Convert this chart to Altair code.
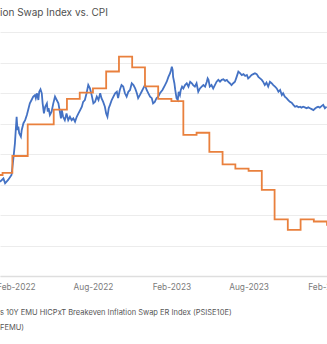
import altair as alt
import pandas as pd

# ---------------- data ----------------
title_text = "ion Swap Index vs. CPI"
legend_lines = [
    "s 10Y EMU HICPxT Breakeven Inflation Swap ER Index (PSISE10E)",
    "FEMU)",
]
tick_months = [(2022, 2), (2022, 8), (2023, 2), (2023, 8), (2024, 2)]

# Breakeven swap ER index (blue): days since base date, index level
base_date = "2021-12-26"
blue_day = [0, 8, 12, 19, 27, 31, 35, 39, 41, 43, 45, 49, 51, 55, 59, 63, 66, 70, 74, 78,
            82, 84, 87, 90, 92, 95, 98, 100, 103, 106, 110, 112, 114, 117, 121, 125, 129, 133, 137, 141,
            143, 145, 148, 152, 156, 160, 164, 168, 172, 176, 180, 184, 188, 192, 195, 199, 203, 207, 211, 215,
            219, 223, 227, 231, 235, 238, 242, 246, 249, 252, 255, 258, 262, 266, 270, 274, 277, 281, 285, 289,
            293, 297, 301, 305, 309, 313, 317, 321, 324, 328, 332, 336, 340, 344, 348, 352, 356, 359, 363, 367,
            371, 375, 381, 387, 391, 395, 399, 401, 403, 405, 406, 409, 411, 414, 417, 419, 422, 424, 427, 430,
            434, 438, 442, 446, 450, 453, 457, 461, 465, 469, 473, 477, 481, 485, 487, 489, 492, 496, 500, 504,
            508, 512, 516, 520, 524, 528, 532, 535, 539, 543, 547, 551, 555, 559, 563, 567, 571, 575, 579, 582,
            586, 590, 594, 598, 602, 606, 610, 614, 617, 621, 625, 629, 633, 637, 641, 645, 649, 653, 657, 661,
            664, 668, 672, 676, 680, 684, 688, 692, 696, 700, 704, 707, 711, 715, 719, 723, 727, 731, 735, 739,
            743, 746, 750, 754, 758, 762, 766]
blue_val = [130.9, 132.0, 130.4, 131.5, 133.1, 138.0, 143.5, 152.2, 147.9, 149.0, 146.8, 145.7, 147.9, 150.1, 151.1, 152.8, 154.4, 156.6, 157.7, 158.8,
            159.3, 158.3, 159.9, 157.7, 160.4, 161.2, 159.9, 156.6, 153.3, 155.5, 156.6, 153.9, 155.0, 152.8, 153.9, 156.6, 158.8, 157.7, 156.6, 153.3,
            151.7, 154.4, 152.2, 151.1, 153.3, 151.1, 152.2, 151.1, 151.7, 150.6, 152.2, 153.3, 154.4, 155.5, 157.1, 157.7, 159.9, 162.6, 161.5, 159.3,
            156.6, 157.1, 158.8, 157.7, 159.9, 158.3, 157.1, 155.5, 153.3, 152.2, 155.0, 156.1, 157.7, 158.8, 159.9, 160.4, 158.3, 161.0, 162.6, 162.1,
            159.9, 158.8, 160.4, 161.0, 163.2, 162.6, 161.5, 159.9, 158.3, 159.3, 160.4, 161.5, 162.6, 161.0, 159.9, 158.8, 158.3, 156.6, 157.1, 158.3,
            158.8, 159.9, 161.0, 162.6, 163.7, 165.3, 166.5, 167.5, 168.6, 167.5, 165.3, 163.2, 161.0, 158.3, 157.7, 160.4, 159.3, 161.0, 162.1, 161.5,
            162.6, 163.2, 162.1, 163.7, 163.2, 162.6, 162.1, 163.2, 160.4, 161.5, 162.1, 162.6, 162.1, 163.7, 164.8, 164.3, 162.1, 162.6, 161.5, 162.6,
            163.7, 164.3, 163.7, 164.3, 164.5, 164.0, 164.3, 163.7, 163.2, 162.6, 163.2, 163.7, 165.3, 167.0, 166.5, 165.9, 166.2, 165.6, 165.9, 164.8,
            165.3, 165.9, 166.2, 166.5, 166.2, 165.3, 164.8, 164.3, 163.7, 162.6, 163.4, 162.1, 163.7, 163.2, 162.6, 162.1, 161.5, 160.4, 161.0, 159.3,
            159.9, 158.8, 158.3, 157.7, 157.1, 156.8, 156.1, 155.5, 155.7, 155.3, 155.5, 155.2, 155.5, 155.3, 155.0, 155.3, 155.0, 154.7, 154.4, 154.9,
            155.3, 155.5, 155.2, 155.7, 156.1, 155.0, 155.5]

# Euro area HICP YoY % (orange, monthly steps)
cpi_date = ["2021-12-01", "2022-01-01", "2022-01-24", "2022-03-01", "2022-04-01", "2022-05-01",
            "2022-06-01", "2022-07-01", "2022-08-01", "2022-09-01", "2022-10-01", "2022-11-01",
            "2022-12-01", "2023-01-01", "2023-02-01", "2023-03-01", "2023-04-01", "2023-05-01",
            "2023-06-01", "2023-07-01", "2023-08-01", "2023-09-01", "2023-10-01", "2023-11-01",
            "2023-12-01", "2024-01-01", "2024-02-01"]
cpi_val = [5.0, 5.1, 5.9, 7.4, 7.4, 8.1, 8.6, 8.9, 9.1, 9.9, 10.6, 10.1, 9.2, 8.6, 8.5,
           6.9, 7.0, 6.1, 5.5, 5.3, 5.2, 4.3, 2.9, 2.4, 2.9, 2.8, 2.6]

# ---------------- tables ----------------
blue_dates = pd.Timestamp(base_date) + pd.to_timedelta(blue_day, unit="D")
blue_df = pd.DataFrame({"date": blue_dates.strftime("%Y-%m-%dT00:00:00Z"), "value": blue_val})
cpi_df = pd.DataFrame({"date": [d + "T00:00:00Z" for d in cpi_date], "value": cpi_val})

W, H = 327, 244
x_scale = alt.Scale(
    type="utc",
    domain=[alt.DateTime(year=2021, month=12, date=26, utc=True),
            alt.DateTime(year=2024, month=3, date=1, utc=True)],
    range=[0, 339.4],
)
x_axis = alt.Axis(
    title=None,
    values=[alt.DateTime(year=y, month=m, date=1, utc=True) for y, m in tick_months],
    labelExpr="utcFormat(datum.value, '%b-%Y')",
    ticks=False, grid=False, domain=True,
    domainColor="#dedede", domainWidth=1.6,
    labelColor="#7b7b7b", labelFontSize=8.3, labelFont="Inter",
    labelPadding=6, labelOverlap=False, labelFlush=False,
)
x_enc = alt.X("date:T", scale=x_scale, axis=x_axis)

blue = alt.Chart(blue_df).mark_line(color="#4472c4", strokeWidth=1.8, clip=True).encode(
    x=x_enc,
    y=alt.Y("value:Q", scale=alt.Scale(domain=[100, 180], nice=False),
            axis=alt.Axis(title=None, values=list(range(100, 181, 10)), labels=False,
                          ticks=False, domain=False, grid=True,
                          gridColor="#ececec", gridWidth=1)),
)

orange = alt.Chart(cpi_df).mark_line(color="#e9803d", strokeWidth=1.8,
                                     interpolate="step-after", clip=True).encode(
    x=x_enc,
    y=alt.Y("value:Q", scale=alt.Scale(domain=[0.22, 11.77], nice=False, zero=False), axis=None),
)

title_layer = alt.Chart(pd.DataFrame({"t": [title_text]})).mark_text(
    align="left", baseline="middle", fontSize=10, font="Inter", color="#505050"
).encode(x=alt.value(0), y=alt.value(-19), text="t:N")

legend1 = alt.Chart(pd.DataFrame({"t": [legend_lines[0]]})).mark_text(
    align="left", baseline="middle", fontSize=7.5, font="Inter", color="#555555"
).encode(x=alt.value(0), y=alt.value(H + 37), text="t:N")

legend2 = alt.Chart(pd.DataFrame({"t": [legend_lines[1]]})).mark_text(
    align="left", baseline="middle", fontSize=7.5, font="Inter", color="#555555"
).encode(x=alt.value(0), y=alt.value(H + 52), text="t:N")

chart = alt.layer(blue, orange, title_layer, legend1, legend2).resolve_scale(
    y="independent"
).properties(
    width=W, height=H,
    autosize=alt.AutoSizeParams(type="none"),
    padding={"top": 32, "bottom": 68, "left": 0, "right": 0},
    background="white",
).configure_view(stroke=None)

chart.save("out.html", embed_options={"renderer": "svg", "actions": False})
